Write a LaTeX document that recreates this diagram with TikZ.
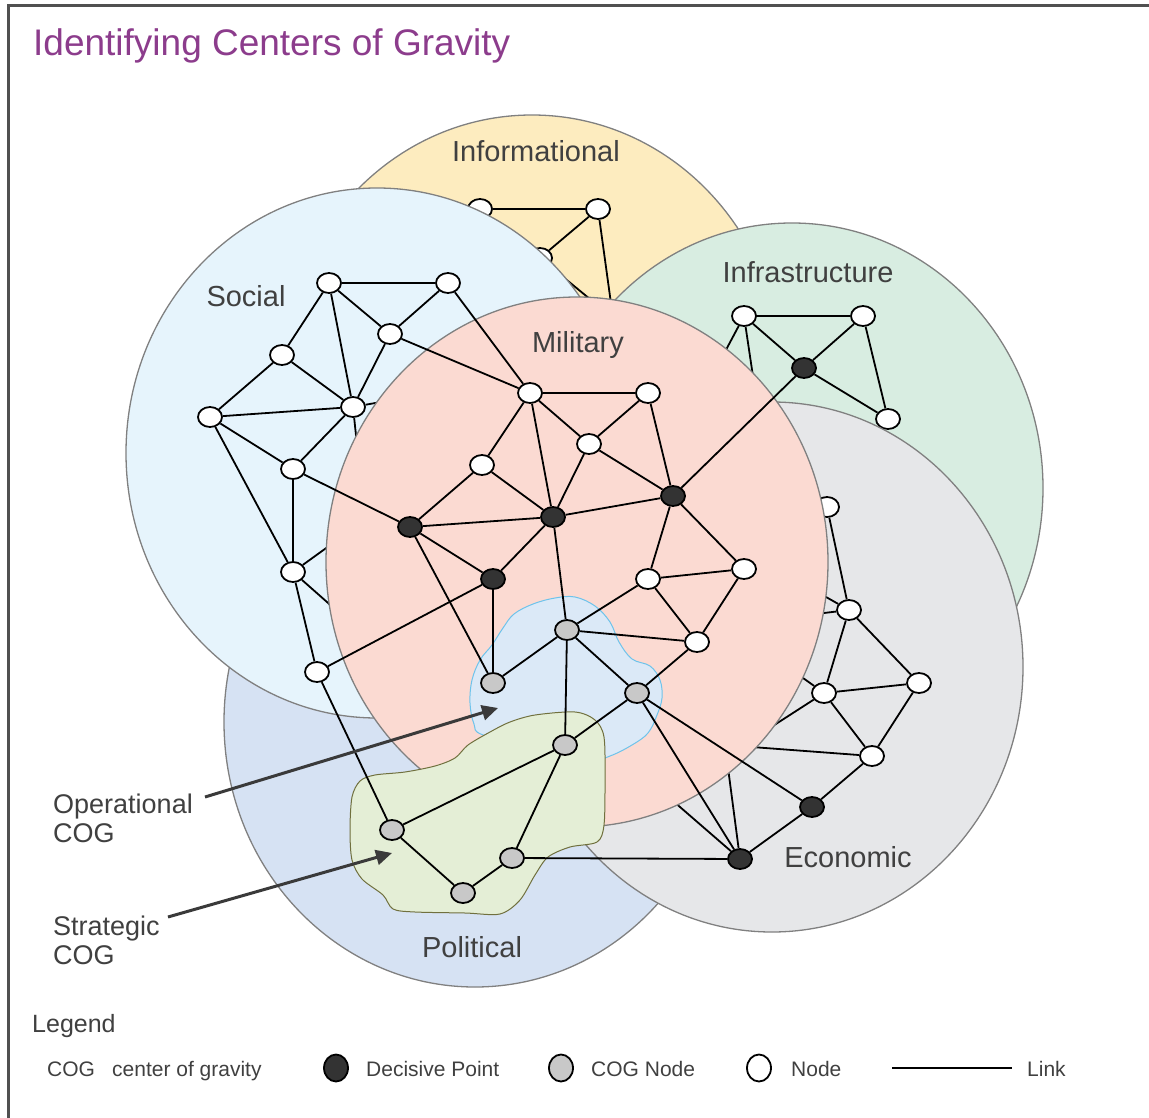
\documentclass[tikz,border=0pt]{standalone}
\usepackage{fontspec}
\setmainfont{Liberation Sans}
\usepackage{xcolor}
\usepackage{tikz}
\usetikzlibrary{shapes.geometric,arrows.meta}

\definecolor{infocol}{RGB}{253,236,191}
\definecolor{soccol}{RGB}{230,244,252}
\definecolor{infracol}{RGB}{216,237,225}
\definecolor{ecocol}{RGB}{230,231,233}
\definecolor{polcol}{RGB}{214,226,243}
\definecolor{milcol}{RGB}{251,218,210}
\definecolor{opcol}{RGB}{219,233,247}
\definecolor{opbordo}{RGB}{110,195,235}
\definecolor{stcol}{RGB}{228,238,214}
\definecolor{stbordo}{RGB}{112,112,62}
\definecolor{bordo}{RGB}{128,128,128}
\definecolor{scuro}{RGB}{51,51,51}
\definecolor{grigiocog}{RGB}{200,200,200}
\definecolor{testo}{RGB}{64,64,64}
\definecolor{viola}{RGB}{140,60,140}
\definecolor{grigiofreccia}{RGB}{58,58,58}
\definecolor{cornice}{RGB}{80,80,80}

\begin{document}
\begin{tikzpicture}[x=1pt, y=-1pt,
    dominio/.style={draw=bordo, line width=1.3pt},
    nodo/.style={ellipse, draw=black, line width=1.8pt, fill=white, minimum width=24pt, minimum height=20pt, inner sep=0pt},
    decisivo/.style={nodo, fill=scuro},
    nodocog/.style={nodo, fill=grigiocog},
    collegamento/.style={line width=1.8pt},
    etichetta/.style={font=\fontsize{29}{34}\selectfont, text=testo, inner sep=0pt, anchor=base},
    voce/.style={font=\fontsize{21}{25}\selectfont, text=testo, inner sep=0pt, anchor=base west},
    freccia/.style={draw=grigiofreccia, line width=3pt, -{Triangle[length=16pt, width=15pt]}}
]
    \useasboundingbox (0,0) rectangle (1149,1118);

    % Cornice
    \coordinate (angolo) at (8,6);
    \draw[line width=3pt, draw=cornice] (8,1118) -- (angolo) -- (1149,6);

    % Titolo
    \node[anchor=base west, inner sep=0pt, text=viola, font=\fontsize{37}{44}\selectfont] (titolo) at (33,56) {Identifying Centers of Gravity};

    % Cerchio politico
    \draw[dominio, fill=polcol] (475,722) ellipse [x radius=251pt, y radius=265pt];

    % Rete informativa
    \draw[dominio, fill=infocol] (532,380) ellipse [x radius=251pt, y radius=265pt];
    \node[nodo] (i1) at (480,209) {};
    \node[nodo] (i2) at (598,209) {};
    \node[nodo] (i3) at (540,258) {};
    \coordinate (i4) at (613,318);
    \draw[collegamento] (i1) -- (i2) -- (i3) -- (i4) -- (i2);

    % Rete sociale
    \draw[dominio, fill=soccol] (377,453) ellipse [x radius=251pt, y radius=265pt];
    \node[nodo] (s1) at (329,283) {};
    \node[nodo] (s2) at (448,283) {};
    \node[nodo] (s3) at (390,334) {};
    \node[nodo] (s4) at (282,355) {};
    \node[nodo] (s5) at (210,417) {};
    \node[nodo] (s6) at (353,407) {};
    \node[nodo] (s7) at (293,469) {};
    \node[nodo] (s8) at (293,572) {};
    \node[nodo] (s9) at (317,672) {};
    \coordinate (sh1) at (420,395);
    \coordinate (sh2) at (365,520);
    \coordinate (sh3) at (370,640);
    \draw[collegamento] (s1) -- (s2) -- (s3) -- (s1) -- (s4) -- (s5) -- (s6) -- (s1);
    \draw[collegamento] (s3) -- (s6) -- (s4);
    \draw[collegamento] (s5) -- (s7) -- (s6) -- (sh1);
    \draw[collegamento] (s6) -- (sh2) -- (s8) -- (s7);
    \draw[collegamento] (s5) -- (s8) -- (s9);
    \draw[collegamento] (s8) -- (sh3);

    % Rete infrastrutture
    \draw[dominio, fill=infracol] (792,488) ellipse [x radius=251pt, y radius=265pt];
    \node[nodo] (f1) at (744,316) {};
    \node[nodo] (f2) at (863,316) {};
    \node[decisivo] (fd) at (804,368) {};
    \node[nodo] (f3) at (888,419) {};
    \coordinate (fh1) at (710,380);
    \coordinate (fh2) at (758,410);
    \draw[collegamento] (f1) -- (f2) -- (fd) -- (f1);
    \draw[collegamento] (f2) -- (f3) -- (fd);
    \draw[collegamento] (f1) -- (fh1);
    \draw[collegamento] (f1) -- (fh2);

    % Rete economica
    \draw[dominio, fill=ecocol] (772,667) ellipse [x radius=251pt, y radius=265pt];
    \node[nodo] (e1) at (827,507) {};
    \node[nodo] (e2) at (849,610) {};
    \node[nodo] (e3) at (824,693) {};
    \node[nodo] (e4) at (919,683) {};
    \node[nodo] (e5) at (872,756) {};
    \node[decisivo] (ed1) at (812,807) {};
    \node[decisivo] (ed2) at (740,859) {};
    \coordinate (eh1) at (780,571);
    \coordinate (eh2) at (774,619);
    \coordinate (eh3) at (761,648);
    \coordinate (eh4) at (720,760);
    \coordinate (eh5) at (725,745);
    \coordinate (eh6) at (650,781);
    \draw[collegamento] (e1) -- (e2) -- (e3) -- (e4) -- (e2);
    \draw[collegamento] (e3) -- (e5) -- (e4);
    \draw[collegamento] (e5) -- (ed1) -- (ed2);
    \draw[collegamento] (e2) -- (eh1);
    \draw[collegamento] (e2) -- (eh2);
    \draw[collegamento] (e3) -- (eh3);
    \draw[collegamento] (e3) -- (eh4);
    \draw[collegamento] (e5) -- (eh5) -- (ed2) -- (eh6);

    % Cerchio militare
    \draw[dominio, fill=milcol] (577,562) ellipse [x radius=251pt, y radius=265pt];

    % COG operativo e strategico
    \draw[fill=opcol, draw=opbordo, line width=1pt] plot[smooth cycle, tension=0.6] coordinates {
        (483,735) (474,724) (470,703) (472,680) (480,660) (492,645) (503,628)
        (514,614) (533,604) (555,598) (575,597) (595,606) (610,622) (619,642)
        (632,659) (650,666) (660,680) (662,698) (657,715) (648,733) (632,745)
        (610,756) (590,760) (540,750)};
    \draw[fill=stcol, draw=stbordo, line width=1pt] plot[smooth cycle, tension=0.5] coordinates {
        (352,797) (360,781) (375,775) (405,772) (435,766) (455,758) (468,745)
        (490,732) (510,722) (535,715) (575,712) (595,720) (604,737) (605,780)
        (604,825) (597,842) (570,847) (548,857) (535,875) (520,900) (500,914)
        (465,913) (415,912) (393,909) (383,895) (362,879) (352,860) (350,830)};

    % Rete militare
    \node[nodo] (m1) at (530,393) {};
    \node[nodo] (m2) at (648,393) {};
    \node[nodo] (m3) at (589,444) {};
    \node[nodo] (m4) at (482,465) {};
    \node[decisivo] (md1) at (410,527) {};
    \node[decisivo] (md2) at (553,517) {};
    \node[decisivo] (md3) at (673,496) {};
    \node[decisivo] (md4) at (493,579) {};
    \node[nodo] (m5) at (648,579) {};
    \node[nodo] (m6) at (744,569) {};
    \node[nodo] (m7) at (697,642) {};
    \node[nodocog] (c1) at (567,630) {};
    \node[nodocog] (c2) at (493,683) {};
    \node[nodocog] (c3) at (637,693) {};
    \node[nodocog] (c4) at (565,745) {};
    \node[nodocog] (p1) at (392,830) {};
    \node[nodocog] (p2) at (512,858) {};
    \node[nodocog] (p3) at (463,893) {};
    \draw[collegamento] (m1) -- (m2) -- (m3) -- (m1) -- (m4) -- (md1) -- (md2) -- (m1);
    \draw[collegamento] (m3) -- (md2) -- (m4);
    \draw[collegamento] (m2) -- (md3) -- (m3);
    \draw[collegamento] (md2) -- (md3);
    \draw[collegamento] (md1) -- (md4) -- (md2) -- (c1);
    \draw[collegamento] (md1) -- (c2) -- (md4);
    \draw[collegamento] (md3) -- (m5) -- (m6) -- (md3);
    \draw[collegamento] (m5) -- (m7) -- (m6);
    \draw[collegamento] (m5) -- (c1) -- (m7) -- (c3) -- (c1) -- (c2);
    \draw[collegamento] (c1) -- (c4) -- (c3);
    \draw[collegamento] (c4) -- (p1) -- (p3) -- (p2) -- (c4);

    % Collegamenti tra domini
    \draw[collegamento] (s2) -- (m1) -- (s3);
    \draw[collegamento] (s7) -- (md1);
    \draw[collegamento] (md4) -- (s9) -- (p1);
    \draw[collegamento] (fd) -- (md3);
    \draw[collegamento] (ed1) -- (c3) -- (ed2) -- (p2);

    % Nomi dei domini
    \node[etichetta] (lblinfo) at (536,162) {Informational};
    \node[etichetta] (lblsoc) at (246,306) {Social};
    \node[etichetta] (lblinfra) at (808,283) {Infrastructure};
    \node[etichetta] (lblmil) at (578,352) {Military};
    \node[etichetta] (lbleco) at (848,867) {Economic};
    \node[etichetta] (lblpol) at (472,957) {Political};

    % Frecce COG
    \node[anchor=base west, align=left, inner sep=0pt, text=testo, font=\fontsize{27}{29}\selectfont] (lblop) at (53,842) {Operational\\COG};
    \node[anchor=base west, align=left, inner sep=0pt, text=testo, font=\fontsize{27}{29}\selectfont] (lblst) at (53,964) {Strategic\\COG};
    \coordinate (opinizio) at (205,797);
    \coordinate (oppunta) at (498,708);
    \coordinate (stinizio) at (168,917);
    \coordinate (stpunta) at (392,853);
    \draw[freccia] (opinizio) -- (oppunta);
    \draw[freccia] (stinizio) -- (stpunta);

    % Legenda
    \node[anchor=base west, inner sep=0pt, text=testo, font=\fontsize{25}{30}\selectfont] (legenda) at (32,1032) {Legend};
    \node[voce] (vcog) at (47,1076) {COG};
    \node[voce] (vcentro) at (112,1076) {center of gravity};
    \node[decisivo, minimum width=24pt, minimum height=27pt] (ldec) at (336,1068) {};
    \node[voce] (vdec) at (366,1076) {Decisive Point};
    \node[nodocog, minimum width=24pt, minimum height=27pt] (lcog) at (561,1068) {};
    \node[voce] (vcognodo) at (591,1076) {COG Node};
    \node[nodo, minimum width=24pt, minimum height=27pt] (lnodo) at (759,1068) {};
    \node[voce] (vnodo) at (791,1076) {Node};
    \coordinate (linka) at (892,1068);
    \coordinate (linkb) at (1012,1068);
    \draw[collegamento] (linka) -- (linkb);
    \node[voce] (vlink) at (1027,1076) {Link};
\end{tikzpicture}
\end{document}
